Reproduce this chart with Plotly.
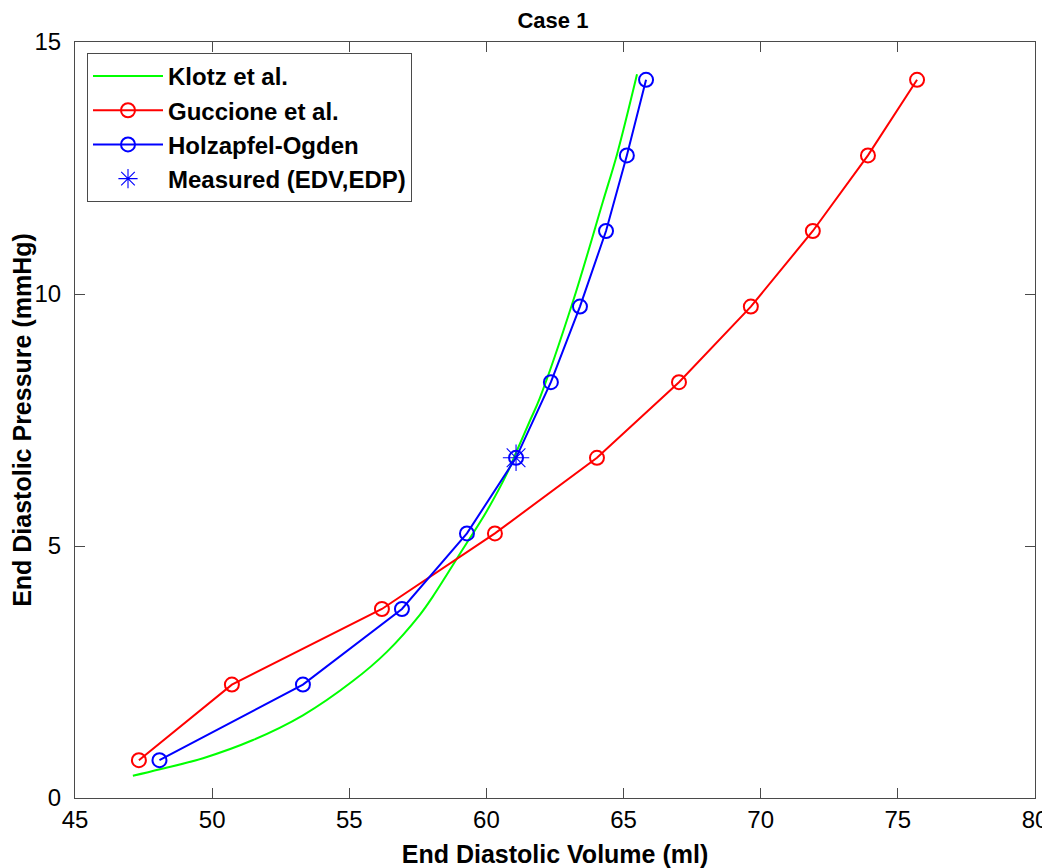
import plotly.graph_objects as go

# pressures shared by the two model curves (mmHg)
pressure = [0.75, 2.25, 3.75, 5.25, 6.75, 8.25, 9.75, 11.25, 12.75, 14.25]
guccione_vol = [47.33, 50.72, 56.19, 60.31, 64.03, 67.02, 69.64, 71.90, 73.91, 75.70]
holzapfel_vol = [48.08, 53.31, 56.92, 59.29, 61.08, 62.35, 63.41, 64.36, 65.12, 65.82]

# Klotz curve
klotz_vol = [47.11, 48.10, 49.67, 51.49, 53.31, 55.13, 56.37, 57.58, 58.05, 59.04,
             60.02, 60.75, 61.11, 61.59, 61.95, 63.16, 64.25, 64.76, 65.49]
klotz_p = [0.44, 0.57, 0.79, 1.15, 1.64, 2.32, 2.90, 3.64, 4.00, 4.85,
           5.70, 6.44, 6.89, 7.49, 7.94, 9.86, 11.84, 12.77, 14.36]

measured_edv = [61.08]
measured_edp = [6.75]

font = "Liberation Sans, Arial, sans-serif"

fig = go.Figure()
fig.add_trace(go.Scatter(x=klotz_vol, y=klotz_p, mode="lines", name="Klotz et al.",
                         line=dict(color="#00ff00", width=2, shape="spline", smoothing=1.0),
                         legendgroup="a"))
fig.add_trace(go.Scatter(x=guccione_vol, y=pressure, mode="lines+markers", name="Guccione et al.",
                         line=dict(color="#ff0000", width=2),
                         marker=dict(symbol="circle-open", size=14, color="#ff0000",
                                     line=dict(width=2)),
                         legendgroup="b"))
fig.add_trace(go.Scatter(x=holzapfel_vol, y=pressure, mode="lines+markers", name="Holzapfel-Ogden",
                         line=dict(color="#0000ff", width=2),
                         marker=dict(symbol="circle-open", size=14, color="#0000ff",
                                     line=dict(width=2)),
                         legendgroup="c"))
fig.add_trace(go.Scatter(x=measured_edv, y=measured_edp, mode="markers", name="Measured (EDV,EDP)",
                         marker=dict(symbol="asterisk-open", size=22, color="#0000ff",
                                     line=dict(width=1.1, color="#0000ff")),
                         legendgroup="d"))

axis_style = dict(showline=True, linecolor="#4a4a4a", linewidth=1, mirror="ticks",
                  ticks="inside", ticklen=10, tickcolor="#4a4a4a", showgrid=False,
                  zeroline=False, automargin=False,
                  tickfont=dict(family=font, size=24, color="black"))

# page body has an 8px margin, so the figure is a bit smaller than the window
fig.update_layout(
    width=1042, height=860,
    margin=dict(l=67, r=15, t=34, b=70),
    plot_bgcolor="white", paper_bgcolor="white",
    title=dict(text="<b>Case 1</b>", x=0.523, y=0.986, xanchor="center", yanchor="middle",
               pad=dict(t=0, b=0),
               font=dict(family=font, size=22, color="black")),
    xaxis=dict(range=[45, 80], dtick=5,
               title=dict(text="<b>End Diastolic Volume (ml)</b>", standoff=14,
                          font=dict(family=font, size=25, color="black")),
               **axis_style),
    yaxis=dict(range=[0, 15], dtick=5, ticklabelstandoff=8,
               title=dict(text="<b>End Diastolic Pressure (mmHg)</b>", standoff=4,
                          font=dict(family=font, size=25, color="black")),
               **axis_style),
    legend=dict(x=0.0125, y=0.9855, xanchor="left", yanchor="top",
                bordercolor="#4a4a4a", borderwidth=1, bgcolor="white",
                tracegroupgap=0, itemwidth=70,
                font=dict(family=font, size=24, color="black")),
    showlegend=True,
)
fig.for_each_trace(lambda t: t.update(name="<b>" + t.name + "</b>"))

fig.write_html("out.html")
